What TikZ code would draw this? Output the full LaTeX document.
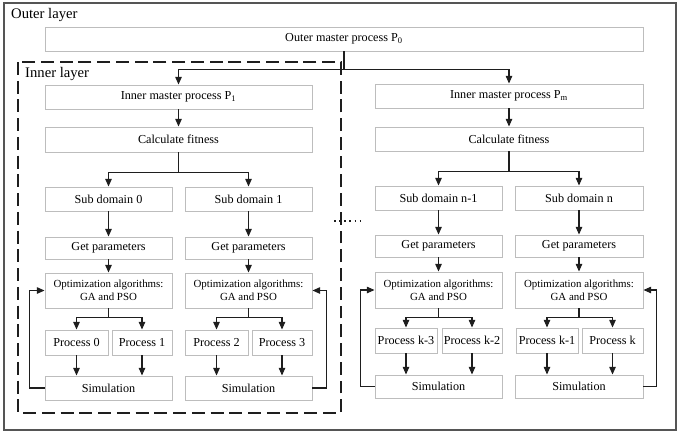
\documentclass[tikz,border=0pt]{standalone}
\usepackage{fontspec}
\setmainfont{Liberation Serif}
\usetikzlibrary{arrows.meta}
\definecolor{boxc}{HTML}{BDBDBD}
\definecolor{linec}{HTML}{1E1E1E}
\definecolor{outerc}{HTML}{555555}
\tikzset{
  box/.style={draw=boxc, line width=0.8pt, fill=white, inner sep=0pt, align=center,
    font=\fontsize{10.4pt}{12pt}\selectfont},
  optbox/.style={box, font=\fontsize{9.3pt}{11.5pt}\selectfont},
  arr/.style={draw=linec, line width=0.9pt, -{Triangle[length=6.5pt,width=5.5pt]}},
  ln/.style={draw=linec, line width=0.9pt},
  layerlab/.style={font=\fontsize{12.5pt}{14pt}\selectfont, inner sep=0pt, anchor=west},
}
\newcommand\bx[7][box]{\node[#1, minimum width={(#5-#3)*0.03cm}, minimum height={(#6-#4)*0.03cm}] (#2) at ({(#3+#5)/2},{(#4+#6)/2}) {#7};}
\begin{document}
\begin{tikzpicture}[x=0.03cm,y=-0.03cm]
\useasboundingbox (0,0) rectangle (679,435);
% outer layer
\draw[outerc, line width=1.3pt] (4,3) rectangle (676,430);
\node[layerlab] (outerlab) at (11,15) {Outer layer};
% inner layer
\draw[linec, line width=0.9pt, dash pattern=on 11pt off 5pt] (18,62) rectangle (341,413);
\node[layerlab] (innerlab) at (25,74) {Inner layer};
% dots
\draw[linec, line width=1.6pt, dash pattern=on 1.3pt off 3.1pt] (334,221) -- (362,221);

\bx{om}{45}{27}{643}{51}{Outer master process P\textsubscript{0}}

% left inner
\bx{im1}{45}{85}{312}{109}{Inner master process P\textsubscript{1}}
\bx{cf1}{45}{127}{312}{152}{Calculate fitness}
\bx{sdA}{45}{187}{172}{211}{Sub domain 0}
\bx{sdB}{185}{187}{312}{211}{Sub domain 1}
\bx{gpA}{45}{237}{172}{259}{Get parameters}
\bx{gpB}{185}{237}{312}{259}{Get parameters}
\bx[optbox]{opA}{45}{273}{172}{308}{Optimization algorithms:\\GA and PSO}
\bx[optbox]{opB}{185}{273}{312}{308}{Optimization algorithms:\\GA and PSO}
\bx{p0}{45}{330}{108}{355}{Process 0}
\bx{p1}{112}{330}{172}{355}{Process 1}
\bx{p2}{185}{330}{248}{355}{Process 2}
\bx{p3}{252}{330}{312}{355}{Process 3}
\bx{smA}{45}{376}{172}{400}{Simulation}
\bx{smB}{185}{376}{312}{400}{Simulation}

% right inner
\bx{imm}{375}{84}{643}{108}{Inner master process P\textsubscript{m}}
\bx{cfm}{375}{127}{643}{151}{Calculate fitness}
\bx{sdC}{375}{186}{502}{210}{Sub domain n-1}
\bx{sdD}{515}{186}{643}{210}{Sub domain n}
\bx{gpC}{375}{235}{502}{257}{Get parameters}
\bx{gpD}{515}{235}{643}{257}{Get parameters}
\bx[optbox]{opC}{375}{272}{502}{308}{Optimization algorithms:\\GA and PSO}
\bx[optbox]{opD}{515}{272}{643}{308}{Optimization algorithms:\\GA and PSO}
\bx{pk3}{375}{328}{437}{353}{Process k-3}
\bx{pk2}{442}{328}{502}{353}{Process k-2}
\bx{pk1}{516}{328}{578}{353}{Process k-1}
\bx{pk}{582}{328}{643}{353}{Process k}
\bx{smC}{375}{375}{502}{398}{Simulation}
\bx{smD}{515}{375}{643}{398}{Simulation}

% connectors
\draw[ln] (om.south) -- ++(0,18) coordinate (omsplit);
\draw[arr] (omsplit) -| (im1.north);
\draw[arr] (omsplit) -| (imm.north);

\draw[arr] (im1) -- (cf1);
\draw[arr] (imm) -- (cfm);
\draw[arr] (cf1.south) -- ++(0,20) -| (sdA.north);
\draw[arr] (cf1.south) -- ++(0,20) -| (sdB.north);
\draw[arr] (cfm.south) -- ++(0,20) -| (sdC.north);
\draw[arr] (cfm.south) -- ++(0,20) -| (sdD.north);

\foreach \a/\b/\c in {sdA/gpA/opA, sdB/gpB/opB, sdC/gpC/opC, sdD/gpD/opD}{
  \draw[arr] (\a) -- (\b);
  \draw[arr] (\b) -- (\c);
}
\foreach \o/\l/\r in {opA/p0/p1, opB/p2/p3, opC/pk3/pk2, opD/pk1/pk}{
  \draw[arr] (\o.south) -- ++(0,9) -| (\l.north);
  \draw[arr] (\o.south) -- ++(0,9) -| (\r.north);
}
\foreach \p/\s in {p0/smA, p1/smA, p2/smB, p3/smB, pk3/smC, pk2/smC, pk1/smD, pk/smD}{
  \draw[arr] (\p.south) -- (\p.south |- \s.north);
}
% feedback loops
\draw[arr] (smA.west) -- ++(-15,0) |- (opA.west);
\draw[arr] (smB.east) -- ++(14,0) |- (opB.east);
\draw[arr] (smC.west) -- ++(-14,0) |- (opC.west);
\draw[arr] (smD.east) -- ++(13,0) |- (opD.east);
\end{tikzpicture}
\end{document}
